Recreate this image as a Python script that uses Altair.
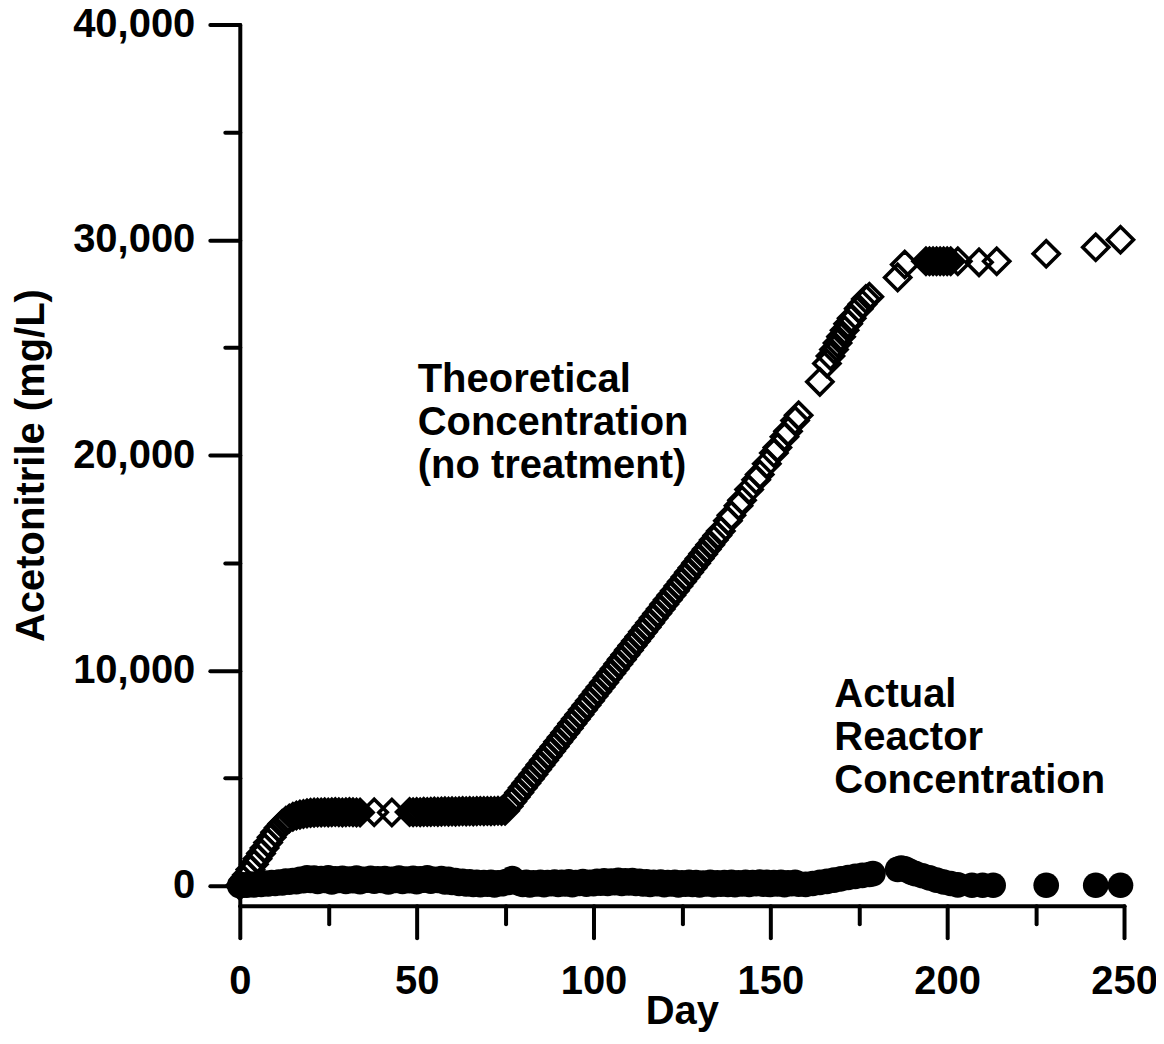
import altair as alt
import pandas as pd

# ---------------- data ----------------
theo_days = (
    [0, 1, 2, 3, 4, 5, 6, 7, 8, 9, 10, 11, 12, 13, 14, 15, 16, 17, 18, 19]
    + [20, 21, 22, 23, 24, 25, 26, 27, 28, 29, 30, 31, 32, 33]
    + [34, 38, 43, 48]
    + [49, 50, 51, 52, 53, 54, 55, 56, 57, 58, 59, 60, 61, 62, 63, 64, 65, 66,
       67, 68, 69, 70, 71, 72, 73, 74]
    + [75, 76, 77, 78, 79, 80, 81, 82, 83, 84, 85, 86, 87, 88, 89, 90, 91, 92,
       93, 94, 95, 96, 97, 98, 99, 100, 101, 102, 103, 104, 105, 106, 107, 108,
       109, 110, 111, 112, 113, 114, 115, 116, 117, 118, 119, 120, 121, 122,
       123, 124, 125, 126, 127, 128, 129, 130, 131, 132, 133, 134, 135, 136]
    + [138, 139, 141, 142, 144, 146, 147, 149, 151, 152, 154, 155, 157, 158]
    + [164, 166, 167, 168, 169, 170, 171, 172, 173, 175, 176, 177, 178]
    + [186, 188, 194, 195, 196, 197, 198, 199, 200, 201, 203, 209, 214,
       228, 242, 249]
)
theo_conc = (
    [0, 250, 500, 750, 1000, 1250, 1500, 1750, 2000, 2250, 2480, 2690, 2870,
     3010, 3120, 3200, 3260, 3300, 3330, 3360]
    + [3380, 3390, 3400, 3400, 3410, 3400, 3410, 3420, 3410, 3400, 3410, 3420,
       3410, 3400]
    + [3400, 3410, 3400, 3420]
    + [3410, 3420, 3410, 3430, 3420, 3430, 3440, 3430, 3440, 3450, 3440, 3450,
       3440, 3450, 3460, 3450, 3460, 3450, 3460, 3470, 3460, 3470, 3460, 3470,
       3480, 3470]
    + [3480, 3690, 3910, 4120, 4330, 4550, 4760, 4970, 5180, 5400, 5610, 5820,
       6040, 6250, 6460, 6680, 6890, 7100, 7310, 7530, 7740, 7950, 8170, 8380,
       8590, 8810, 9020, 9230, 9440, 9660, 9870, 10080, 10300, 10510, 10720,
       10940, 11150, 11360, 11570, 11790, 12000, 12210, 12430, 12640, 12850,
       13070, 13280, 13490, 13700, 13920, 14130, 14340, 14560, 14770, 14980,
       15200, 15410, 15620, 15830, 16050, 16260, 16470]
    + [16950, 17200, 17650, 17900, 18400, 18850, 19100, 19600, 20100, 20350,
       20850, 21100, 21600, 21850]
    + [23400, 24250, 24600, 24900, 25200, 25500, 25800, 26100, 26350, 26800,
       27000, 27250, 27350]
    + [28250, 28850, 29000, 29000, 29000, 29000, 29000, 29000, 29000, 29000,
       29000, 28950, 29000, 29350, 29650, 30000]
)

act_days = list(range(0, 159)) + [
    160, 162, 164, 166, 168, 170, 172, 174, 176, 178, 179, 186, 187, 188, 189,
    190, 191, 193, 195, 197, 199, 201, 203, 207, 210, 213, 228, 242, 249]
act_conc = (
    [0, 40, 20, 70, 40, 90, 60, 120, 80, 140,
     100, 170, 130, 210, 160, 240, 190, 290, 230, 370,
     250, 350, 200, 330, 240, 360, 180, 320, 250, 340,
     200, 310, 230, 350, 190, 300, 260, 340, 210, 320,
     240, 330, 180, 300, 250, 350, 200, 310, 230, 340,
     190, 320, 260, 360, 210, 300, 240, 330, 180, 290,
     150, 240, 100, 200, 80, 180, 60, 150, 50, 140,
     70, 160, 40, 130, 90, 180, 150, 330, 200, 120,
     60, 150, 40, 130, 80, 160, 50, 140, 90, 170,
     60, 150, 80, 180, 50, 140, 100, 190, 70, 160,
     90, 200, 120, 230, 100, 210, 140, 250, 110, 220,
     130, 240, 100, 200, 80, 180, 60, 150, 90, 170,
     50, 140, 80, 160, 40, 130, 70, 150, 60, 140,
     40, 120, 80, 150, 50, 130, 70, 140, 60, 150,
     50, 130, 80, 160, 60, 140, 90, 170, 70, 150,
     60, 140, 80, 160, 50, 130, 90, 150, 70]
    + [60, 100, 150, 200, 260, 320, 380, 430, 480, 520, 560, 760, 820, 780,
       700, 620, 560, 460, 360, 260, 170, 100, 40, 20, 20, 20, 20, 20, 20]
)

x_ticks = [0, 25, 50, 75, 100, 125, 150, 175, 200, 225, 250]
y_ticks = [0, 5000, 10000, 15000, 20000, 25000, 30000, 35000, 40000]

ann_days = [50.3, 168.1]
ann_conc = [22920, 8306]
ann_text = ["Theoretical\nConcentration\n(no treatment)",
            "Actual\nReactor\nConcentration"]

# ---------------- chart ----------------
FONT = "Liberation Sans"
FS = 40

theo = pd.DataFrame({"day": theo_days, "conc": theo_conc})
act = pd.DataFrame({"day": act_days, "conc": act_conc})
ann = pd.DataFrame({"day": ann_days, "conc": ann_conc, "label": ann_text})

xscale = alt.Scale(domain=[0, 250], nice=False, zero=False)
yscale = alt.Scale(domain=[-928, 40000], nice=False, zero=False)

xaxis = alt.Axis(
    values=x_ticks,
    title="Day",
    labelExpr="datum.value % 50 === 0 ? datum.label : ''",
    tickSize={"condition": {"test": "datum.value % 50 === 0", "value": 32}, "value": 18},
    labelPadding=24,
    titlePadding=-10,
    labelFlush=False,
)
yaxis = alt.Axis(
    values=y_ticks,
    title="Acetonitrile (mg/L)",
    format=",d",
    labelExpr="datum.value % 10000 === 0 ? datum.label : ''",
    tickSize={"condition": {"test": "datum.value % 10000 === 0", "value": 30}, "value": 15},
    labelPadding=15,
    titlePadding=21,
    labelFlush=False,
)

x = alt.X("day:Q", scale=xscale, axis=xaxis)
y = alt.Y("conc:Q", scale=yscale, axis=yaxis)

diamonds = alt.Chart(theo).mark_point(
    shape="diamond", filled=False, stroke="black", strokeWidth=3.6,
    size=680, opacity=1
).encode(x=x, y=y)

circles = alt.Chart(act).mark_circle(
    color="black", size=660, opacity=1
).encode(x=x, y=y)

labels = alt.Chart(ann).mark_text(
    align="left", baseline="alphabetic", lineBreak="\n", lineHeight=43,
    font=FONT, fontSize=FS, fontWeight="bold", color="black"
).encode(x=x, y=y, text="label:N")

chart = alt.layer(diamonds, circles, labels).properties(
    width=885, height=882,
    background="white",
    autosize=alt.AutoSizeParams(type="none"),
    padding={"left": 232, "top": 16, "right": 32, "bottom": 128},
).configure_view(stroke=None).configure_axis(
    grid=False,
    domainColor="black", domainWidth=4, domainCap="round",
    tickColor="black", tickWidth=4, tickCap="round",
    labelFont=FONT, labelFontSize=FS, labelFontWeight="bold", labelColor="black",
    titleFont=FONT, titleFontSize=FS, titleFontWeight="bold", titleColor="black",
)

chart.save("out.html", embed_options={"renderer": "svg", "actions": False})
